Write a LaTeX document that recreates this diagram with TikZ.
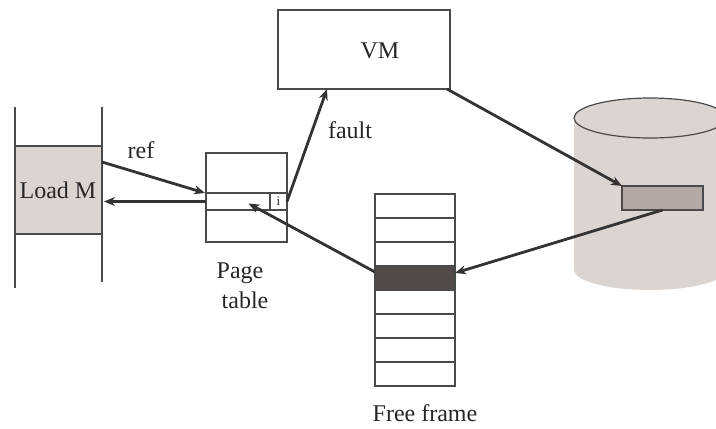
\documentclass[tikz,border=0pt]{standalone}
\usepackage{fontspec}
\setmainfont{Liberation Serif}
\newfontfamily\figfont{Liberation Serif}
\usetikzlibrary{arrows.meta}
\definecolor{edge}{HTML}{4A4A4A}
\definecolor{arrowcol}{HTML}{333333}
\definecolor{lightfill}{HTML}{DBD5D2}
\definecolor{blockfill}{HTML}{B3AAA6}
\definecolor{darkfill}{HTML}{524A48}
\begin{document}
\begin{tikzpicture}[x=1pt,y=-1pt,
  font=\figfont\fontsize{24}{28}\selectfont,
  box/.style={draw=edge, line width=1.2pt, inner sep=0pt, outer sep=0pt, anchor=north west},
  lbl/.style={inner sep=0pt, text=black!85},
  link/.style={draw=arrowcol, line width=2.8pt, -{Stealth[length=11pt,width=9pt]}}]
\useasboundingbox (0,0) rectangle (716,429);
\clip (0,0) rectangle (716,429);

% disk cylinder
\fill[lightfill] (574,118) rectangle (726,270);
\fill[lightfill] (650,270) ellipse (76 and 20);
\fill[lightfill] (650,118) ellipse (76 and 20);
\draw[edge, line width=1.2pt] (650,118) ellipse (76 and 20);
\node[box, fill=blockfill, minimum width=81pt, minimum height=24pt] (block) at (622,186) {};

% process stack
\draw[edge, line width=1.2pt] (15,107) -- (15,288);
\draw[edge, line width=1.2pt] (102,107) -- (102,282);
\node[box, fill=lightfill, minimum width=87pt, minimum height=88pt] (load) at (15,146) {};
\node[lbl] (loadtxt) at (58,190) {Load M};

% page table
\node[box, fill=white, minimum width=81pt, minimum height=89pt] (pt) at (206,153) {};
\node[box, minimum width=81pt, minimum height=17pt] (slot) at (206,193) {};
\node[box, minimum width=17pt, minimum height=17pt] (ibit) at (270,193) {};
\node[lbl, font=\figfont\fontsize{13}{15}\selectfont] (itxt) at (278.5,201) {i};
\node[lbl] (page) at (240,273) {Page};
\node[lbl] (table) at (245,300) {table};

% operating system
\node[box, minimum width=172pt, minimum height=79pt] (vm) at (278,10) {};
\node[lbl] (vmtxt) at (380,51) {VM};

% free frames
\foreach \k in {1,...,8} {
  \node[box, minimum width=80pt, minimum height=24pt] (row\k) at (375,{194+24*(\k-1)}) {};
}
\node[box, fill=darkfill, minimum width=80pt, minimum height=24pt] (row4) at (375,266) {};
\node[lbl] (freetxt) at (425,413) {Free frame};

% labels on links
\node[lbl] (reftxt) at (141,150) {ref};
\node[lbl] (faulttxt) at (350,130) {fault};

% links
\draw[link] ([yshift=28pt]load.east) -- ([xshift=-1pt]slot.north west);
\draw[link] (slot.west) -- ([xshift=2pt]load.east |- slot.west);
\draw[link] (ibit.east) -- ([xshift=49pt]vm.south west);
\draw[link] ([xshift=-3pt]vm.south east) -- (block.north west);
\draw[link] (block.south) -- ([yshift=5pt]row4.east);
\draw[link] ([yshift=-6pt]row4.north west) -- ([xshift=2pt,yshift=-2pt]slot.center);
\end{tikzpicture}
\end{document}
